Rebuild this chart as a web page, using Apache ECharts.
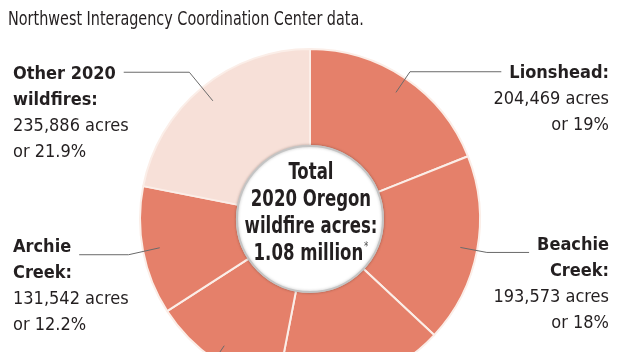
<!DOCTYPE html>
<html>
<head>
<meta charset="utf-8">
<style>
    html, body { margin: 0; padding: 0; overflow: hidden; background: #fff; }
    #chart { width: 622px; height: 470px; }
</style>
<script src="https://cdn.jsdelivr.net/npm/echarts@6/dist/echarts.min.js"></script>
</head>
<body>
<div id="chart"></div>
<script>
(function () {

    "use strict";

    // Acres burned by Oregon's 2020 fires, clockwise from the top
    const categories = ['Lionshead', 'Beachie Creek', 'Holiday Farm', 'Riverside', 'Archie Creek', 'Other 2020 wildfires'];
    const labelNames = ['Lionshead:', 'Beachie\nCreek:', 'Holiday\nFarm:', 'Riverside:', 'Archie\nCreek:', 'Other 2020\nwildfires:'];
    const acres = [204469, 193573, 173393, 138054, 131542, 235886];
    const pctLabels = ['19%', '18%', '16.1%', '12.8%', '12.2%', '21.9%'];
    const lineLengths = [8, 10, 15, 15, 20, 20];

    const sourceNote = 'Northwest Interagency Coordination Center data.';

    const FONT = '"DejaVu Sans Condensed", "DejaVu Sans", sans-serif';
    const INK = '#231f20';
    const SALMON = '#e5806a';
    const PALE = '#f7e0d8';
    const sliceColors = [SALMON, SALMON, SALMON, SALMON, SALMON, PALE];

    const cx = 310, cy = 219;
    const innerR = 73, outerR = 170, lineStartR = 153;
    const labelSize = 18, labelLH = 26, lineGap = 8;

    const total = acres.reduce((a, b) => a + b, 0);
    const totalText = (total / 1e6).toFixed(2) + ' million';

    // used to find where the first label line starts, so the leader line stops just before it
    const ctx = document.createElement('canvas').getContext('2d');
    function textWidth(str, weight) {
        ctx.font = weight + ' ' + labelSize + 'px ' + FONT;
        return ctx.measureText(str).width;
    }

    function placeLabel(params) {
        const pts = params.labelLinePoints;
        if (!pts) {
            return {};
        }
        const rect = params.labelRect;
        const isLeft = pts[1][0] < cx;
        const isTop = pts[1][1] < cy;
        const firstLine = labelNames[params.dataIndex].split('\n')[0];
        const w1 = textWidth(firstLine, 'bold');
        // start the leader a little inside the ring, like the print graphic
        const k = lineStartR / Math.hypot(pts[0][0] - cx, pts[0][1] - cy);
        const start = [cx + (pts[0][0] - cx) * k, cy + (pts[0][1] - cy) * k];
        const endX = isLeft ? rect.x + w1 + lineGap : rect.x + rect.width - w1 - lineGap;
        return {
            dy: pts[1][1] - (rect.y + labelLH / 2) + (isTop ? 6 : -3),
            labelLinePoints: [start, pts[1], [endX, pts[1][1]]]
        };
    }

    const sliceData = categories.map((name, i) => ({
        name: name,
        value: acres[i],
        itemStyle: { color: sliceColors[i] }
    }));

    // same slices again, invisible, only to carry labels and leaders above the ring
    const labelData = categories.map((name, i) => ({
        name: name,
        value: acres[i],
        labelLine: { length: lineLengths[i] }
    }));

    const chart = echarts.init(document.getElementById('chart'), null, { renderer: 'canvas' });

    chart.setOption({
        animation: false,
        textStyle: { fontFamily: FONT },
        graphic: [{
            type: 'text',
            x: 8,
            y: 20,
            scaleX: 0.8,
            silent: true,
            style: {
                text: sourceNote,
                fontFamily: FONT,
                fontSize: 20,
                fill: INK,
                align: 'left',
                verticalAlign: 'middle'
            }
        }, {
            type: 'text',
            x: cx + 1,
            y: 214,
            scaleX: 0.8,
            silent: true,
            z: 100,
            style: {
                text: '{t|Total}\n{t|2020 Oregon}\n{t|wildfire acres:}\n{t|' + totalText + '}{s|*}',
                align: 'center',
                verticalAlign: 'middle',
                rich: {
                    t: { fontFamily: FONT, fontSize: 23, fontWeight: 'bold', fill: INK, lineHeight: 27 },
                    s: { fontFamily: FONT, fontSize: 12, fill: '#555', lineHeight: 27, verticalAlign: 'top', padding: [0, 0, 5, 1] }
                }
            }
        }],
        series: [{
            type: 'pie',
            z: 1,
            center: [cx, cy],
            radius: [innerR, outerR],
            startAngle: 90,
            clockwise: true,
            silent: true,
            data: sliceData,
            itemStyle: { borderColor: '#fbeee8', borderWidth: 2 },
            label: { show: false },
            labelLine: { show: false }
        }, {
            // white hole in the middle with its grey rim
            type: 'pie',
            z: 1,
            center: [cx, cy],
            radius: [0, innerR],
            silent: true,
            label: { show: false },
            labelLine: { show: false },
            data: [{
                name: 'total',
                value: 1,
                itemStyle: { color: '#ffffff', borderColor: '#c4c4c4', borderWidth: 2, shadowBlur: 3, shadowColor: 'rgba(0,0,0,0.25)' }
            }]
        }, {
            type: 'pie',
            z: 3,
            center: [cx, cy],
            radius: [innerR, outerR],
            startAngle: 90,
            clockwise: true,
            silent: true,
            data: labelData,
            itemStyle: { color: 'rgba(0,0,0,0)', borderWidth: 0 },
            label: {
                show: true,
                position: 'outside',
                alignTo: 'edge',
                edgeDistance: 13,
                distanceToLabelLine: 0,
                overflow: 'none',
                formatter: (p) => {
                    const i = p.dataIndex;
                    const names = labelNames[i].split('\n').map((s) => '{b|' + s + '}').join('\n');
                    return names + '\n{n|' + acres[i].toLocaleString('en-US') + ' acres}\n{n|or ' + pctLabels[i] + '}';
                },
                rich: {
                    b: { fontFamily: FONT, fontSize: labelSize, fontWeight: 'bold', color: INK, lineHeight: labelLH },
                    n: { fontFamily: FONT, fontSize: labelSize, color: INK, lineHeight: labelLH }
                }
            },
            labelLine: {
                show: true,
                length: 15,
                length2: 60,
                lineStyle: { color: '#6a6a6a', width: 1 }
            },
            labelLayout: placeLabel
        }]
    });

})();
</script>
</body>
</html>
